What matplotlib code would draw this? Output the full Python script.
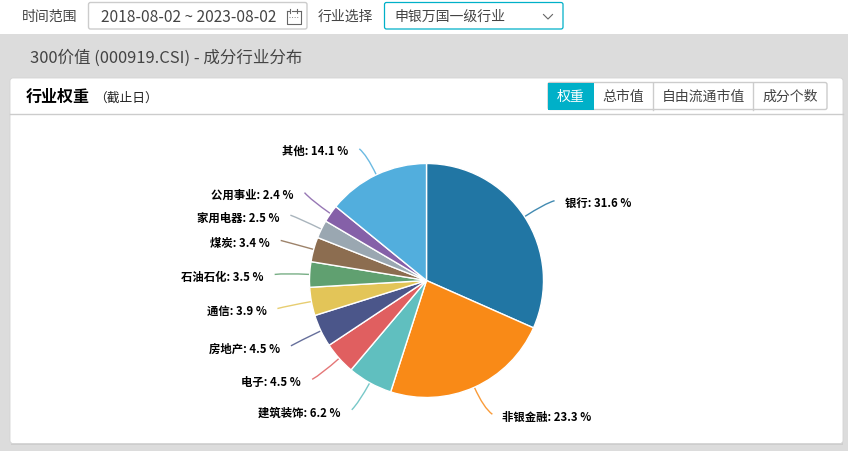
import numpy as np
import matplotlib
matplotlib.use('Agg')
import matplotlib.pyplot as plt
from matplotlib.patches import FancyBboxPatch, PathPatch, Rectangle
from matplotlib.path import Path

plt.rcParams['font.family'] = ['Noto Sans CJK SC', 'DejaVu Sans']

industries = ['银行', '非银金融', '建筑装饰', '电子', '房地产', '通信', '石油石化', '煤炭', '家用电器', '公用事业', '其他']
weights = [31.6, 23.3, 6.2, 4.5, 4.5, 3.9, 3.5, 3.4, 2.5, 2.4, 14.1]
colors = ['#2176a4', '#f98a17', '#60bfbf', '#e05f60', '#4b568a', '#e3c558', '#60a070', '#8c6d50', '#9aa7b1', '#8560a8', '#52aedd']

# where the leader lines stop, offset from the slice edge in pixels
leader_dx = [30, 18, -18, -27, -30, -34, -35, -33, -31, -26, -17]
leader_dy = [-16, 27, 27, 21, 15, 7, 0, -9, -14, -21, -26]

buttons = ['权重', '总市值', '自由流通市值', '成分个数']
button_edges = [548, 594, 653, 753, 827]

cx, cy, radius = 426.5, 281.5, 117
W, H = 848, 452

fig = plt.figure(figsize=(W / 100, H / 100), dpi=100)
ax = fig.add_axes([0, 0, 1, 1])
ax.set_xlim(0, W)
ax.set_ylim(H, 0)
ax.axis('off')


def box(x0, y0, x1, y1, face='white', edge='#cccccc', lw=1.0, rad=2, z=2):
    p = FancyBboxPatch((x0, y0), x1 - x0, y1 - y0, boxstyle=f'round,pad=0,rounding_size={rad}',
                       fc=face, ec=edge, lw=lw, zorder=z)
    ax.add_patch(p)


# page background, card and its soft shadow
ax.add_patch(Rectangle((0, 35), W, H - 35, fc='#dcdcdc', ec='none', zorder=0))
ax.add_patch(Rectangle((11, 443), 832, 3, fc='#cdcdcd', ec='none', zorder=0.5))
box(10, 79, 843, 444.5, edge='#d4d4d4', lw=0.6, rad=3, z=1)
ax.plot([10, 843], [114.5, 114.5], color='#cccccc', lw=1, zorder=2)

# top filter row
ax.text(22, 17, '时间范围', fontsize=10, color='#444444', va='center')
box(88.5, 3.5, 307, 30)
ax.text(101, 17, '2018-08-02 ~ 2023-08-02', fontsize=11.2, color='#444444', va='center')
# calendar icon
ax.plot([286.5, 286.5, 300.5, 300.5], [12, 24.5, 24.5, 12], color='#666666', lw=0.8, zorder=3)
ax.plot([286.5, 289], [12, 12], color='#666666', lw=0.8, zorder=3)
ax.plot([291.5, 296], [12, 12], color='#666666', lw=0.8, zorder=3)
ax.plot([298, 300.5], [12, 12], color='#666666', lw=0.8, zorder=3)
ax.plot([290, 290], [10, 13.5], color='#666666', lw=0.8, zorder=3)
ax.plot([297, 297], [10, 13.5], color='#666666', lw=0.8, zorder=3)
ax.plot([289, 298], [17.5, 17.5], color='#888888', lw=0.7, ls=':', zorder=3)
ax.text(318, 17, '行业选择', fontsize=10, color='#444444', va='center')
box(384.5, 3.5, 563, 30, edge='#00b0c8', lw=0.9)
ax.text(394, 17, '申银万国一级行业', fontsize=10, color='#444444', va='center', zorder=3)
ax.plot([543.5, 548, 552.5], [15.5, 20, 15.5], color='#666666', lw=0.8, zorder=3)

# headings
ax.text(30, 58, '300价值 (000919.CSI) - 成分行业分布', fontsize=11.9, color='#444444', va='center')
ax.text(26, 97, '行业权重', fontsize=11.5, color='black', weight='bold', va='center', zorder=3)
ax.text(94, 98, '（截止日）', fontsize=9.2, color='#222222', va='center', zorder=3)

# button group
box(548, 83.5, 827, 110.5, rad=2, z=2)
ax.add_patch(Rectangle((548, 83.5), 46, 27, fc='#00b0c8', ec='none', zorder=3))
for x in button_edges[2:4]:
    ax.plot([x, x], [83.5, 110.5], color='#cccccc', lw=1, zorder=3)
for i, name in enumerate(buttons):
    ax.text((button_edges[i] + button_edges[i + 1]) / 2, 97, name, fontsize=10,
            color='white' if i == 0 else '#444444', ha='center', va='center', zorder=4)

# pie, in its own axes so it stays round and scaled from the weights
pie_ax = fig.add_axes([(cx - radius) / W, 1 - (cy + radius) / H, 2 * radius / W, 2 * radius / H])
pie_ax.pie(weights, colors=colors, startangle=90, counterclock=False, radius=1,
           wedgeprops={'edgecolor': 'white', 'linewidth': 1.0})
pie_ax.set_xlim(-1, 1)
pie_ax.set_ylim(-1, 1)
pie_ax.set_zorder(3)

# leader lines and labels
cum = np.cumsum(weights)
total = cum[-1]
for i, name in enumerate(industries):
    mid = (cum[i] - weights[i] / 2) / total * 2 * np.pi
    sx = cx + radius * np.sin(mid)
    sy = cy - radius * np.cos(mid)
    ex = sx + leader_dx[i]
    ey = sy + leader_dy[i]
    # bend: run out along the radius until level with the end point, then go flat
    length = np.hypot(leader_dx[i], leader_dy[i])
    run = 0.7 * length
    if abs(np.cos(mid)) > 0.05:
        level = leader_dy[i] / -np.cos(mid)
        if 0 < level < run:
            run = level
    qx = sx + run * np.sin(mid)
    qy = sy - run * np.cos(mid)
    path = Path([(sx, sy), (qx, qy), (ex, ey)], [Path.MOVETO, Path.CURVE3, Path.CURVE3])
    ax.add_patch(PathPatch(path, fc='none', ec=colors[i], lw=1.0, alpha=0.85, zorder=3))
    right = leader_dx[i] > 0
    ax.text(ex + (10 if right else -11), ey + 2, f'{name}: {weights[i]:.1f} %', fontsize=8.2,
            weight='bold', color='black', ha='left' if right else 'right', va='center', zorder=4)

fig.savefig('out.png', dpi=100)
